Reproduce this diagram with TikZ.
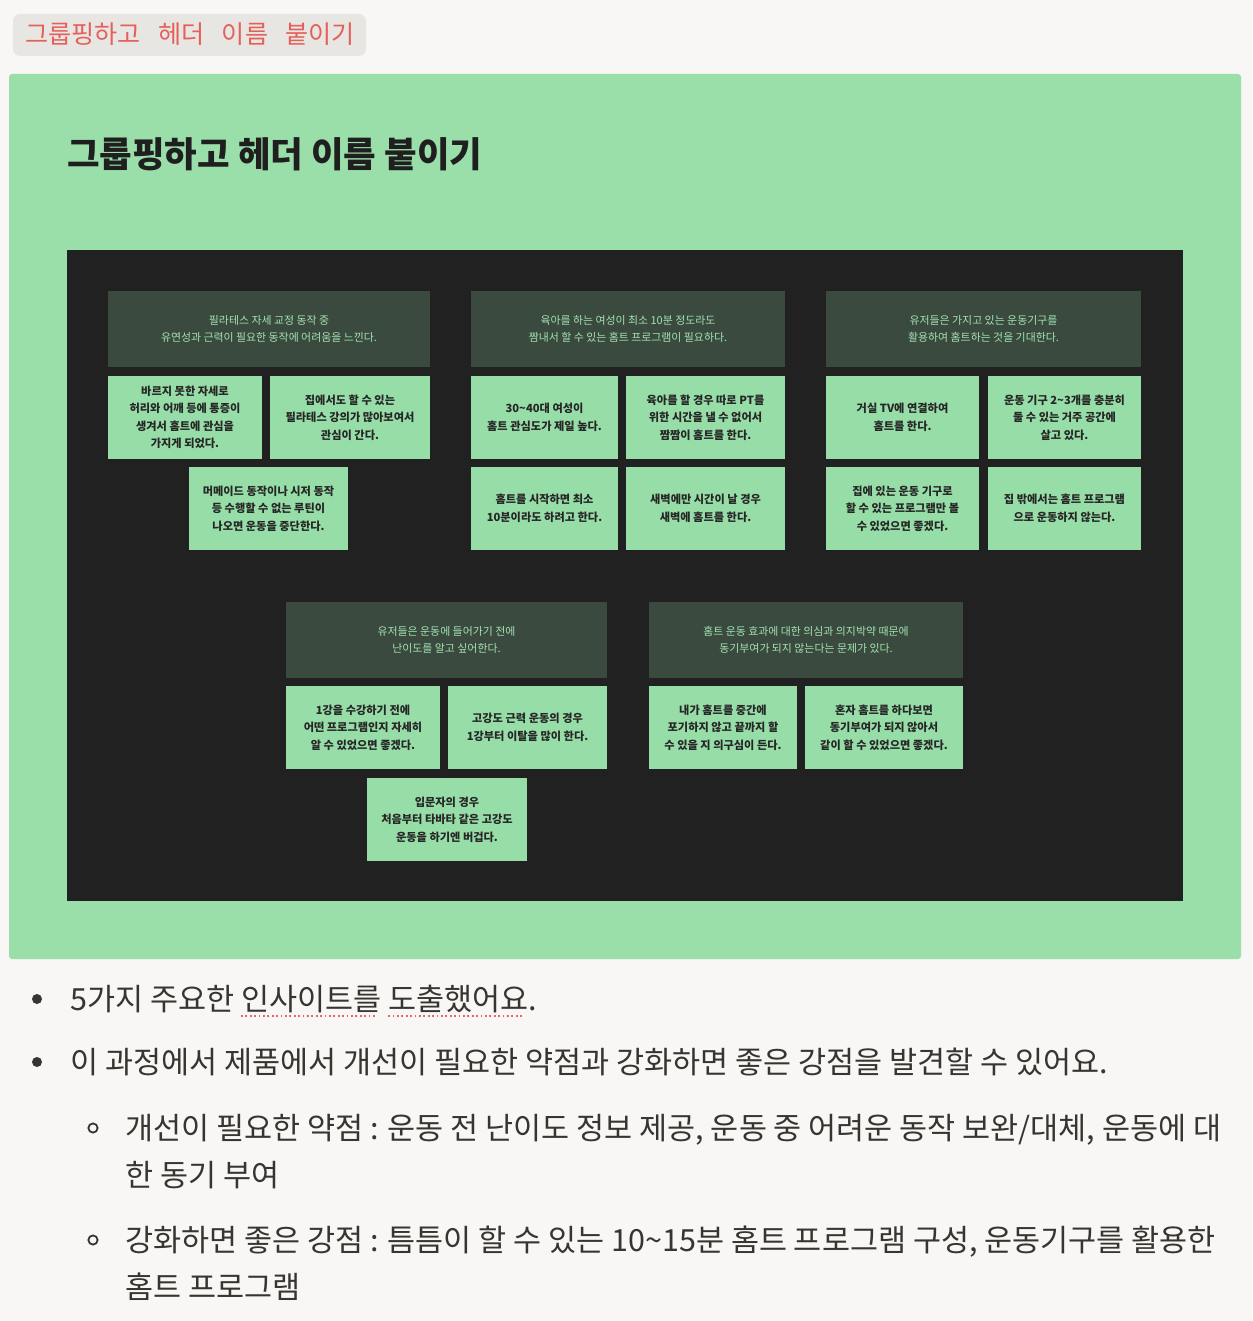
\documentclass[tikz,border=0pt]{standalone}
\usepackage{fontspec}
\setmainfont{Noto Sans CJK KR}

% dotted red underline under marked words
\newsavebox{\markbox}
\newcommand{\dotmark}[1]{\sbox{\markbox}{#1}\rlap{\hbox to \wd\markbox{\leaders\hbox{\textcolor{markColour}{\rule[-7pt]{1.8pt}{1.8pt}}\kern2.6pt}\hfill}}#1}

\begin{document}
\begin{tikzpicture}[x=1pt, y=-1pt,
    header/.style={fill=headerFill, text=headerText, minimum height=76, inner sep=0,
        align=center, font=\fontsize{10.9}{17.5}\selectfont},
    card/.style={fill=cardFill, text=cardText, minimum height=83, inner sep=0,
        align=center, font=\fontsize{11.2}{17.5}\selectfont\bfseries},
    bullettext/.style={anchor=base west, inner sep=0, text=textColour,
        font=\fontsize{30.5}{36}\selectfont}]
    % Define colors
    \definecolor{pageColour}{HTML}{F8F7F5}
    \definecolor{tagFill}{HTML}{E8E6E2}
    \definecolor{tagText}{HTML}{E5605A}
    \definecolor{greenFill}{HTML}{9ADFA9}
    \definecolor{boardColour}{HTML}{212121}
    \definecolor{headerFill}{HTML}{3A4A3F}
    \definecolor{headerText}{HTML}{A4E2B1}
    \definecolor{cardFill}{HTML}{97DDA7}
    \definecolor{cardText}{HTML}{262626}
    \definecolor{titleColour}{HTML}{1F1F1F}
    \definecolor{textColour}{HTML}{37352F}
    \definecolor{markColour}{HTML}{E5685E}

    % Page background fixes the size
    \fill[pageColour] (0,0) rectangle (1252,1321);

    % Tag at the top
    \fill[tagFill, rounded corners=7pt] (13,14) rectangle (366,56);
    \node[anchor=base west, inner sep=0, text=tagText, font=\fontsize{25.1}{28}\selectfont]
        (tag) at (25,44) {그룹핑하고\hspace{0.7em}헤더\hspace{0.7em}이름\hspace{0.7em}붙이기};

    % Green panel with title
    \fill[greenFill, rounded corners=3pt] (9,74) rectangle (1241,959);
    \node[anchor=base west, inner sep=0, text=titleColour, font=\fontsize{35.4}{40}\selectfont\bfseries]
        (title) at (67,168) {그룹핑하고 헤더 이름 붙이기};

    % Dark board
    \fill[boardColour] (67,250) rectangle (1183,901);

    % Group 1
    \node[header, minimum width=322] (g1head) at (269,329) {필라테스 자세 교정 동작 중\\유연성과 근력이 필요한 동작에 어려움을 느낀다.};
    \node[card, minimum width=154] (g1a) at (185,417.5) {바르지 못한 자세로\\허리와 어깨 등에 통증이\\생겨서 홈트에 관심을\\가지게 되었다.};
    \node[card, minimum width=160] (g1b) at (350,417.5) {집에서도 할 수 있는\\필라테스 강의가 많아보여서\\관심이 간다.};
    \node[card, minimum width=159] (g1c) at (268.5,508.5) {머메이드 동작이나 시저 동작\\등 수행할 수 없는 루틴이\\나오면 운동을 중단한다.};

    % Group 2
    \node[header, minimum width=314] (g2head) at (628,329) {육아를 하는 여성이 최소 10분 정도라도\\짬내서 할 수 있는 홈트 프로그램이 필요하다.};
    \node[card, minimum width=147] (g2a) at (544.5,417.5) {30\textasciitilde40대 여성이\\홈트 관심도가 제일 높다.};
    \node[card, minimum width=159] (g2b) at (705.5,417.5) {육아를 할 경우 따로 PT를\\위한 시간을 낼 수 없어서\\짬짬이 홈트를 한다.};
    \node[card, minimum width=147] (g2c) at (544.5,508.5) {홈트를 시작하면 최소\\10분이라도 하려고 한다.};
    \node[card, minimum width=159] (g2d) at (705.5,508.5) {새벽에만 시간이 날 경우\\새벽에 홈트를 한다.};

    % Group 3
    \node[header, minimum width=315] (g3head) at (983.5,329) {유저들은 가지고 있는 운동기구를\\활용하여 홈트하는 것을 기대한다.};
    \node[card, minimum width=153] (g3a) at (902.5,417.5) {거실 TV에 연결하여\\홈트를 한다.};
    \node[card, minimum width=153] (g3b) at (1064.5,417.5) {운동 기구 2\textasciitilde3개를 충분히\\둘 수 있는 거주 공간에\\살고 있다.};
    \node[card, minimum width=153] (g3c) at (902.5,508.5) {집에 있는 운동 기구로\\할 수 있는 프로그램만 볼\\수 있었으면 좋겠다.};
    \node[card, minimum width=153] (g3d) at (1064.5,508.5) {집 밖에서는 홈트 프로그램\\으로 운동하지 않는다.};

    % Group 4
    \node[header, minimum width=321] (g4head) at (446.5,640) {유저들은 운동에 들어가기 전에\\난이도를 알고 싶어한다.};
    \node[card, minimum width=154] (g4a) at (363,727.5) {1강을 수강하기 전에\\어떤 프로그램인지 자세히\\알 수 있었으면 좋겠다.};
    \node[card, minimum width=159] (g4b) at (527.5,727.5) {고강도 근력 운동의 경우\\1강부터 이탈을 많이 한다.};
    \node[card, minimum width=160] (g4c) at (447,819.5) {입문자의 경우\\처음부터 타바타 같은 고강도\\운동을 하기엔 버겁다.};

    % Group 5
    \node[header, minimum width=314] (g5head) at (806,640) {홈트 운동 효과에 대한 의심과 의지박약 때문에\\동기부여가 되지 않는다는 문제가 있다.};
    \node[card, minimum width=148] (g5a) at (723,727.5) {내가 홈트를 중간에\\포기하지 않고 끝까지 할\\수 있을 지 의구심이 든다.};
    \node[card, minimum width=158] (g5b) at (884,727.5) {혼자 홈트를 하다보면\\동기부여가 되지 않아서\\같이 할 수 있었으면 좋겠다.};

    % Bullet list below the panel
    \fill[textColour] (37,999) circle (5pt);
    \node[bullettext] (item1) at (70,1010) {5가지 주요한 \dotmark{인사이트를} \dotmark{도출했어요}.};
    \fill[textColour] (37,1062) circle (5pt);
    \node[bullettext] (item2) at (70,1073) {이 과정에서 제품에서 개선이 필요한 약점과 강화하면 좋은 강점을 발견할 수 있어요.};

    % Sub items
    \draw[textColour, line width=1.8pt] (93,1128) circle (4.6pt);
    \node[bullettext] (weak) at (125,1139) {개선이 필요한 약점 : 운동 전 난이도 정보 제공, 운동 중 어려운 동작 보완/대체, 운동에 대};
    \node[bullettext] (weakrest) at (125,1186) {한 동기 부여};
    \draw[textColour, line width=1.8pt] (93,1240) circle (4.6pt);
    \node[bullettext] (strong) at (125,1251) {강화하면 좋은 강점 : 틈틈이 할 수 있는 10\textasciitilde15분 홈트 프로그램 구성, 운동기구를 활용한};
    \node[bullettext] (strongrest) at (125,1298) {홈트 프로그램};

\end{tikzpicture}
\end{document}
